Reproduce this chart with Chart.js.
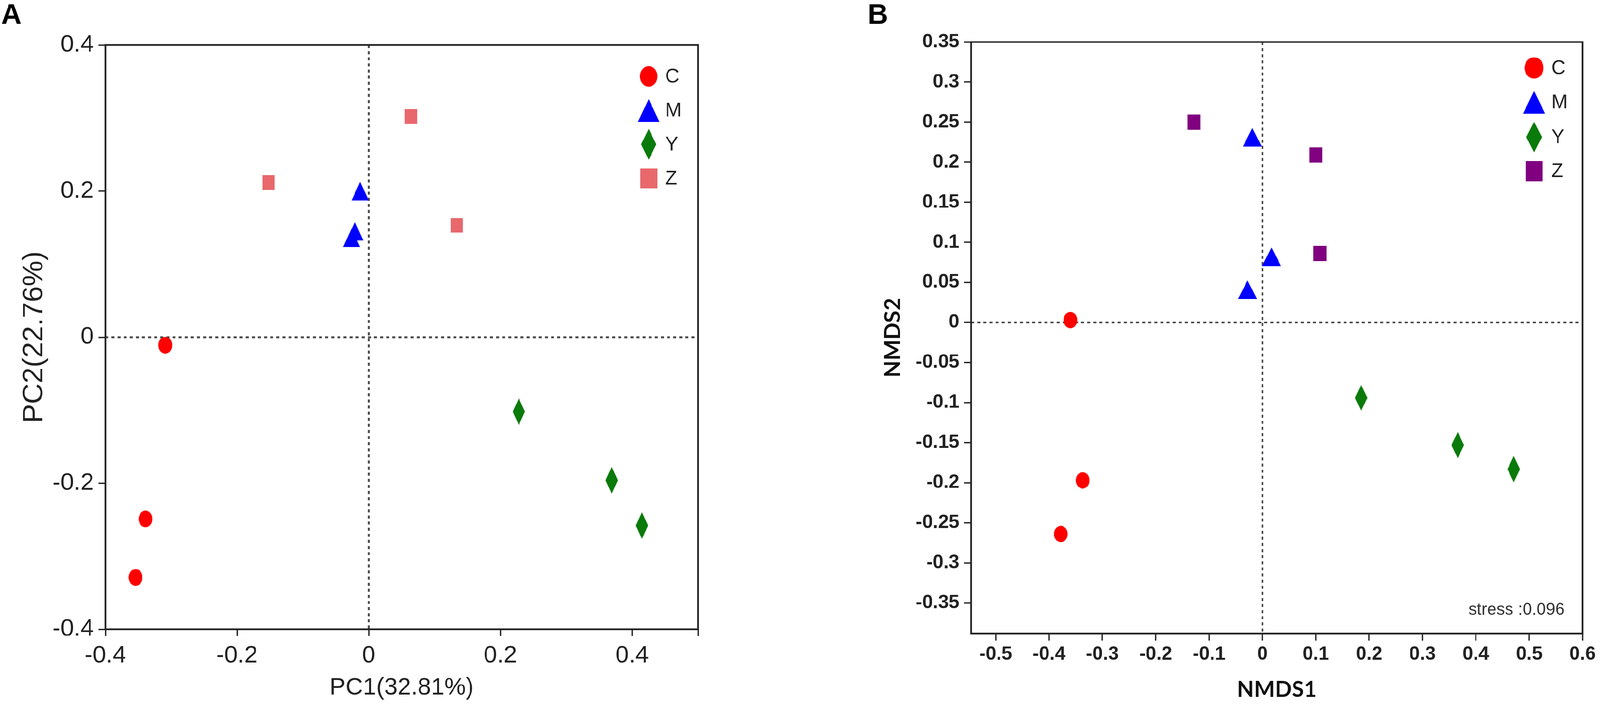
<!DOCTYPE html>
<html>
<head>
<meta charset="utf-8">
<script src="https://cdn.jsdelivr.net/npm/chart.js@4.4.1/dist/chart.umd.min.js"></script>
<style>
  html, body { margin: 0; padding: 0; background: #fff; overflow: hidden; }
  #stage { position: absolute; left: 0; top: 0; width: 4193px; height: 1860px; transform-origin: 0 0; }
  #wrapA { position: absolute; left: 0; top: 0; width: 2100px; height: 1860px; }
  #wrapB { position: absolute; left: 2150px; top: 0; width: 2043px; height: 1860px; }
</style>
</head>
<body>
<div id="stage">
  <div id="wrapA"><canvas id="chartA"></canvas></div>
  <div id="wrapB"><canvas id="chartB"></canvas></div>
</div>
<script>
// ---- data ----
const groups = ['C', 'M', 'Y', 'Z'];

// A: PCoA
const pcoaC = [[-0.309, -0.011], [-0.339, -0.249], [-0.354, -0.329]];
const pcoaM = [[-0.013, 0.200], [-0.021, 0.145], [-0.026, 0.136]];
const pcoaY = [[0.228, -0.102], [0.369, -0.196], [0.415, -0.258]];
const pcoaZ = [[-0.152, 0.212], [0.064, 0.302], [0.134, 0.153]];
const pcoaXTicks = [-0.4, -0.2, 0, 0.2, 0.4, 0.5];
const pcoaXTickLabels = ['-0.4', '-0.2', '0', '0.2', '0.4', ''];
const pcoaYTicks = [-0.4, -0.2, 0, 0.2, 0.4];
const pcoaYTickLabels = ['-0.4', '-0.2', '0', '0.2', '0.4'];

// B: NMDS
const nmdsC = [[-0.360, 0.003], [-0.337, -0.197], [-0.378, -0.264]];
const nmdsM = [[-0.019, 0.231], [0.017, 0.082], [-0.028, 0.041]];
const nmdsY = [[0.185, -0.094], [0.366, -0.153], [0.471, -0.183]];
const nmdsZ = [[-0.128, 0.250], [0.100, 0.209], [0.108, 0.086]];
const nmdsXTicks = [-0.5, -0.4, -0.3, -0.2, -0.1, 0, 0.1, 0.2, 0.3, 0.4, 0.5, 0.6];
const nmdsXTickLabels = ['-0.5', '-0.4', '-0.3', '-0.2', '-0.1', '0', '0.1', '0.2', '0.3', '0.4', '0.5', '0.6'];
const nmdsYTicks = [-0.35, -0.3, -0.25, -0.2, -0.15, -0.1, -0.05, 0, 0.05, 0.1, 0.15, 0.2, 0.25, 0.3, 0.35];
const nmdsYTickLabels = ['-0.35', '-0.3', '-0.25', '-0.2', '-0.15', '-0.1', '-0.05', '0', '0.05', '0.1', '0.15', '0.2', '0.25', '0.3', '0.35'];
const stressText = 'stress :0.096';

// fit the 4193x1860 layout into whatever viewport we get
const fit = Math.min(window.innerWidth / 4193, window.innerHeight / 1860);
document.getElementById('stage').style.transform = 'scale(' + fit + ')';

// ---- styling ----
const SANS = "'Liberation Sans', Arial, sans-serif";
const BOLDSANS = "Lato, 'Open Sans', sans-serif";
const INK = '#222';

// marker images (the reference symbols are slightly taller than wide)
function makeMarker(shape, color, w, h) {
    const c = document.createElement('canvas');
    c.width = w;
    c.height = h;
    const g = c.getContext('2d');
    g.fillStyle = color;
    g.beginPath();
    if (shape === 'circle') {
        g.ellipse(w / 2, h / 2, w / 2, h / 2, 0, 0, Math.PI * 2);
    } else if (shape === 'triangle') {
        g.moveTo(w / 2, 0); g.lineTo(w, h); g.lineTo(0, h); g.closePath();
    } else if (shape === 'diamond') {
        g.moveTo(w / 2, 0); g.lineTo(w, h / 2); g.lineTo(w / 2, h); g.lineTo(0, h / 2); g.closePath();
    } else {
        g.rect(0, 0, w, h);
    }
    g.fill();
    return c;
}

function toPoints(pairs) {
    return pairs.map(p => ({ x: p[0], y: p[1] }));
}

// dotted zero lines + box frame
const frameAndZero = {
    id: 'frameAndZero',
    beforeDatasetsDraw(chart) {
        const { ctx, chartArea: a } = chart;
        const x0 = chart.scales.x.getPixelForValue(0);
        const y0 = chart.scales.y.getPixelForValue(0);
        ctx.save();
        ctx.strokeStyle = '#4a4a4a';
        ctx.lineWidth = 5;
        ctx.setLineDash([8, 8]);
        ctx.beginPath();
        ctx.moveTo(x0, a.top); ctx.lineTo(x0, a.bottom);
        ctx.moveTo(a.left, y0); ctx.lineTo(a.right, y0);
        ctx.stroke();
        ctx.setLineDash([]);
        ctx.strokeStyle = INK;
        ctx.lineWidth = 4.5;
        ctx.strokeRect(a.left, a.top, a.right - a.left, a.bottom - a.top);
        ctx.restore();
    }
};

// legend inside the plot, top right
const cornerLegend = {
    id: 'cornerLegend',
    afterDatasetsDraw(chart, args, opts) {
        const { ctx, chartArea: a } = chart;
        ctx.save();
        ctx.font = opts.font;
        ctx.fillStyle = INK;
        ctx.textBaseline = 'middle';
        ctx.textAlign = 'left';
        groups.forEach((g, i) => {
            const m = opts.markers[i];
            const cx = a.right - opts.fromRight;
            const cy = a.top + opts.rows[i];
            ctx.drawImage(m, cx - m.width / 2, cy - m.height / 2);
            ctx.fillText(g, cx + opts.textGap, cy + 2);
        });
        ctx.restore();
    }
};

// panel letter and other free text
const panelText = {
    id: 'panelText',
    afterDraw(chart, args, opts) {
        const ctx = chart.ctx;
        ctx.save();
        ctx.fillStyle = '#000';
        ctx.font = "bold 74px " + SANS;
        ctx.textBaseline = 'alphabetic';
        ctx.textAlign = 'left';
        ctx.fillText(opts.letter, opts.letterX, 62);
        if (opts.note) {
            const a = chart.chartArea;
            ctx.font = opts.noteFont;
            ctx.fillStyle = '#333';
            ctx.textAlign = 'right';
            ctx.textBaseline = 'middle';
            ctx.fillText(opts.note, a.right - 47, a.bottom - 61);
        }
        ctx.restore();
    }
};

// ---- A: PCoA ----
new Chart(document.getElementById('chartA'), {
    type: 'scatter',
    data: {
        datasets: [
            { label: 'C', data: toPoints(pcoaC), pointStyle: makeMarker('circle', '#ff0000', 36, 44) },
            { label: 'M', data: toPoints(pcoaM), pointStyle: makeMarker('triangle', '#0000ff', 45, 49) },
            { label: 'Y', data: toPoints(pcoaY), pointStyle: makeMarker('diamond', '#0a7a0a', 32, 70) },
            { label: 'Z', data: toPoints(pcoaZ), pointStyle: makeMarker('square', '#e8686c', 32, 38) }
        ].map(d => Object.assign(d, { pointRadius: 20, pointHoverRadius: 20 }))
    },
    options: {
        responsive: true,
        maintainAspectRatio: false,
        animation: false,
        events: [],
        layout: { padding: { left: 0, top: 118, right: 271, bottom: 0 } },
        scales: {
            x: {
                type: 'linear',
                min: -0.4,
                max: 0.5,
                afterBuildTicks: s => { s.ticks = pcoaXTicks.map(v => ({ value: v })); },
                afterFit: s => { s.height = 212; },
                ticks: {
                    autoSkip: false, maxRotation: 0, padding: 20, color: INK,
                    font: { family: SANS, size: 63, lineHeight: 1 },
                    callback: (v, i) => pcoaXTickLabels[i]
                },
                grid: { drawOnChartArea: false, drawTicks: true, tickLength: 18, tickColor: INK, tickWidth: 3.5 },
                border: { display: false },
                title: {
                    display: true, text: 'PC1(32.81%)', color: INK,
                    font: { family: SANS, size: 63, lineHeight: 1 },
                    padding: { top: 0, bottom: 27 }
                }
            },
            y: {
                type: 'linear',
                min: -0.4,
                max: 0.4,
                afterBuildTicks: s => { s.ticks = pcoaYTicks.map(v => ({ value: v })); },
                afterFit: s => { s.width = 276; },
                ticks: {
                    autoSkip: false, padding: 12, color: INK,
                    font: { family: SANS, size: 63, lineHeight: 1 },
                    callback: (v, i) => pcoaYTickLabels[i]
                },
                grid: { drawOnChartArea: false, drawTicks: true, tickLength: 18, tickColor: INK, tickWidth: 3.5 },
                border: { display: false },
                title: {
                    display: true, text: 'PC2(22.76%)', color: INK,
                    font: { family: SANS, size: 75, lineHeight: 1 },
                    padding: { top: 53, bottom: 0 }
                }
            }
        },
        plugins: {
            legend: { display: false },
            tooltip: { enabled: false },
            cornerLegend: {
                font: "52px " + SANS,
                fromRight: 129,
                textGap: 43,
                rows: [82, 171, 260, 349],
                markers: [
                    makeMarker('circle', '#ff0000', 46, 54),
                    makeMarker('triangle', '#0000ff', 56, 59),
                    makeMarker('diamond', '#0a7a0a', 40, 81),
                    makeMarker('square', '#e8686c', 45, 52)
                ]
            },
            panelText: { letter: 'A', letterX: 3 }
        }
    },
    plugins: [frameAndZero, cornerLegend, panelText]
});

// ---- B: NMDS ----
new Chart(document.getElementById('chartB'), {
    type: 'scatter',
    data: {
        datasets: [
            { label: 'C', data: toPoints(nmdsC), pointStyle: makeMarker('circle', '#ff0000', 36, 43) },
            { label: 'M', data: toPoints(nmdsM), pointStyle: makeMarker('triangle', '#0000ff', 50, 49) },
            { label: 'Y', data: toPoints(nmdsY), pointStyle: makeMarker('diamond', '#0a7a0a', 33, 69) },
            { label: 'Z', data: toPoints(nmdsZ), pointStyle: makeMarker('square', '#800080', 34, 40) }
        ].map(d => Object.assign(d, { pointRadius: 20, pointHoverRadius: 20 }))
    },
    options: {
        responsive: true,
        maintainAspectRatio: false,
        animation: false,
        events: [],
        layout: { padding: { left: 0, top: 110, right: 45, bottom: 0 } },
        scales: {
            x: {
                type: 'linear',
                min: -0.546,
                max: 0.6,
                afterBuildTicks: s => { s.ticks = nmdsXTicks.map(v => ({ value: v })); },
                afterFit: s => { s.height = 201; },
                ticks: {
                    autoSkip: false, maxRotation: 0, padding: 11, color: INK,
                    font: { family: SANS, size: 50, weight: 'bold', lineHeight: 1 },
                    callback: (v, i) => nmdsXTickLabels[i]
                },
                grid: { drawOnChartArea: false, drawTicks: true, tickLength: 19, tickColor: INK, tickWidth: 3.5 },
                border: { display: false },
                title: {
                    display: true, text: 'NMDS1', color: '#111',
                    font: { family: BOLDSANS, size: 58, weight: 'bold', lineHeight: 1 },
                    padding: { top: 0, bottom: 25 }
                }
            },
            y: {
                type: 'linear',
                min: -0.388,
                max: 0.35,
                afterBuildTicks: s => { s.ticks = nmdsYTicks.map(v => ({ value: v })); },
                afterFit: s => { s.width = 395; },
                ticks: {
                    autoSkip: false, padding: 12, color: INK,
                    font: { family: SANS, size: 50, weight: 'bold', lineHeight: 1 },
                    callback: (v, i) => nmdsYTickLabels[i]
                },
                grid: { drawOnChartArea: false, drawTicks: true, tickLength: 19, tickColor: INK, tickWidth: 3.5 },
                border: { display: false },
                title: {
                    display: true, text: 'NMDS2', color: '#111',
                    font: { family: BOLDSANS, size: 58, weight: 'bold', lineHeight: 1 },
                    padding: { top: 161, bottom: 0 }
                }
            }
        },
        plugins: {
            legend: { display: false },
            tooltip: { enabled: false },
            cornerLegend: {
                font: "52px " + SANS,
                fromRight: 127,
                textGap: 45,
                rows: [68, 158, 249, 338],
                markers: [
                    makeMarker('circle', '#ff0000', 50, 56),
                    makeMarker('triangle', '#0000ff', 58, 59),
                    makeMarker('diamond', '#0a7a0a', 41, 80),
                    makeMarker('square', '#800080', 45, 53)
                ]
            },
            panelText: { letter: 'B', letterX: 124, note: stressText, noteFont: "44px " + SANS }
        }
    },
    plugins: [frameAndZero, cornerLegend, panelText]
});
</script>
</body>
</html>
